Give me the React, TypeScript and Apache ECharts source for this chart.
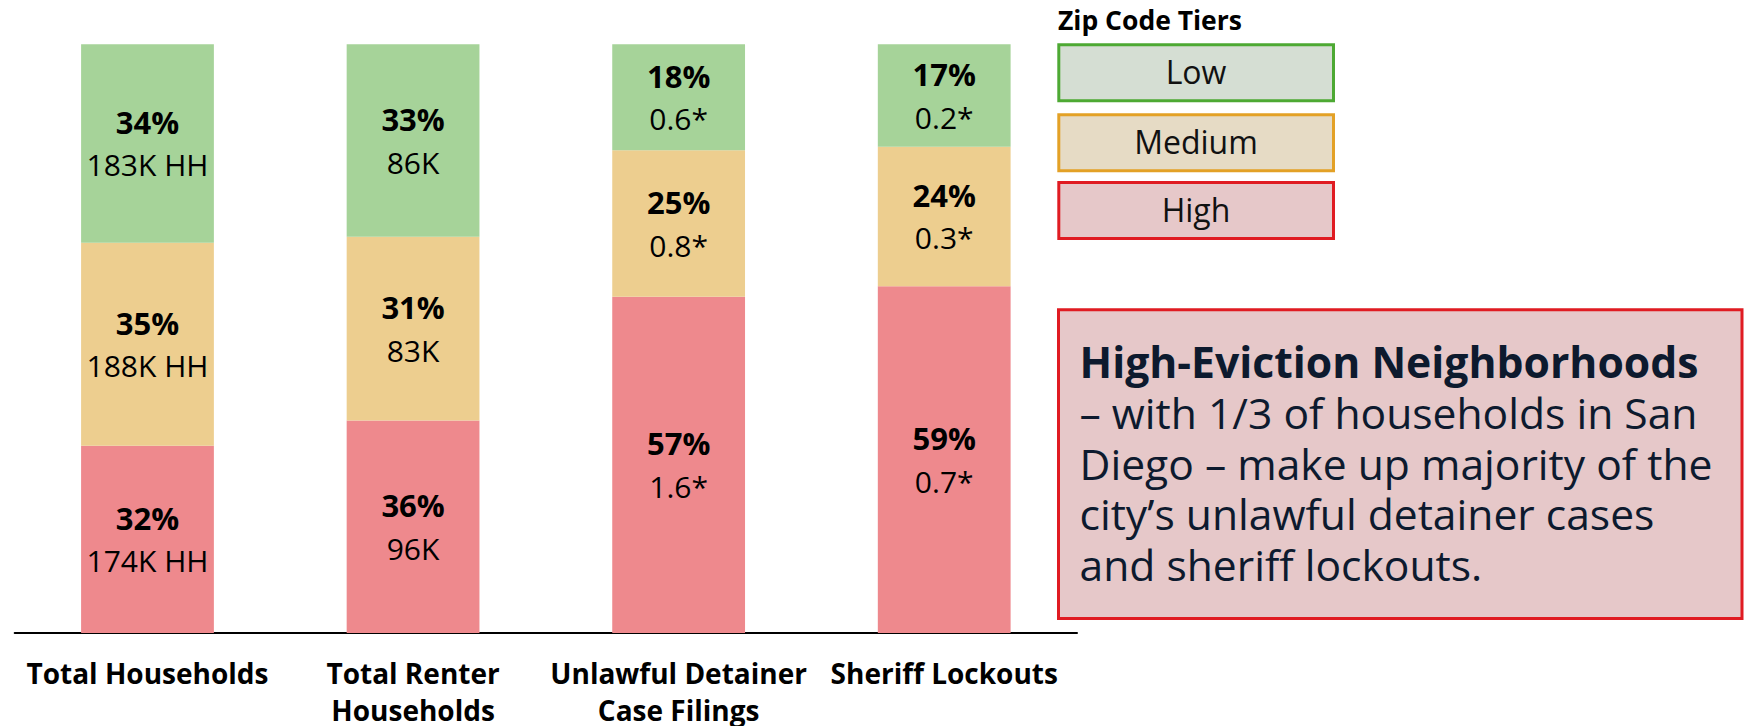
import React, { useEffect, useRef } from "react";
import * as echarts from "echarts";

const categories = [
  "Total Households",
  "Total Renter\nHouseholds",
  "Unlawful Detainer\nCase Filings",
  "Sheriff Lockouts",
];

// bar heights (share of total, %)
const highShare = [31.8, 36.1, 57.1, 58.9];
const mediumShare = [34.5, 31.2, 24.9, 23.7];
const lowShare = [33.7, 32.7, 18.0, 17.4];

// printed labels
const highPct = ["32%", "36%", "57%", "59%"];
const highCount = ["174K HH", "96K", "1.6*", "0.7*"];
const mediumPct = ["35%", "31%", "25%", "24%"];
const mediumCount = ["188K HH", "83K", "0.8*", "0.3*"];
const lowPct = ["34%", "33%", "18%", "17%"];
const lowCount = ["183K HH", "86K", "0.6*", "0.2*"];

const legendTitle = "Zip Code Tiers";
const tierNames = ["Low", "Medium", "High"];

const calloutTitle = "High-Eviction Neighborhoods";
const calloutLines = [
  "– with 1/3 of households in San",
  "Diego – make up majority of the",
  "city’s unlawful detainer cases",
  "and sheriff lockouts.",
];

const FONT = "'Open Sans', 'Noto Sans', sans-serif";

export default function App() {
  const ref = useRef<HTMLDivElement>(null);

  useEffect(() => {
    if (!ref.current) return;
    const chart = echarts.init(ref.current, undefined, { renderer: "svg" });

    const mkLabel = (pcts: string[], counts: string[]) => ({
      show: true,
      position: "inside",
      formatter: (p: any) => `{p|${pcts[p.dataIndex]}}\n{v|${counts[p.dataIndex]}}`,
      rich: {
        p: { fontFamily: FONT, fontSize: 31, fontWeight: "bold", color: "#000", lineHeight: 43 },
        v: { fontFamily: FONT, fontSize: 30, color: "#000", lineHeight: 43 },
      },
    });

    const legendBoxes = [
      { y: 44.8, fill: "#D5DED3", stroke: "#4DA933" },
      { y: 114.8, fill: "#E6DBC5", stroke: "#E3A126" },
      { y: 182.5, fill: "#E6C8C9", stroke: "#E01B22" },
    ];

    const graphic: any[] = [
      {
        type: "text",
        x: 1058,
        y: 19.5,
        style: {
          text: legendTitle,
          fontFamily: FONT,
          fontSize: 26.5,
          fontWeight: "bold",
          fill: "#000",
          align: "left",
          verticalAlign: "middle",
        },
      },
    ];
    legendBoxes.forEach((b, i) => {
      graphic.push({
        type: "rect",
        shape: { x: 1058.8, y: b.y, width: 274.7, height: 56 },
        style: { fill: b.fill, stroke: b.stroke, lineWidth: 3 },
      });
      graphic.push({
        type: "text",
        x: 1196,
        y: b.y + 26.5,
        style: {
          text: tierNames[i],
          fontFamily: FONT,
          fontSize: 32,
          fill: "#111",
          align: "center",
          verticalAlign: "middle",
        },
      });
    });

    graphic.push({
      type: "rect",
      shape: { x: 1058.5, y: 309.8, width: 683.5, height: 308.7 },
      style: { fill: "#E6C8C9", stroke: "#E01B22", lineWidth: 3 },
    });
    const LH = 50.8;
    graphic.push({
      type: "text",
      x: 1079.5,
      y: 361 - LH / 2,
      style: {
        text: [`{b|${calloutTitle}}`, ...calloutLines.map((t) => `{r|${t}}`)].join("\n"),
        fill: "#0D1A2E",
        align: "left",
        verticalAlign: "top",
        rich: {
          b: { fontFamily: FONT, fontSize: 42.7, fontWeight: "bold", fill: "#0D1A2E", lineHeight: LH },
          r: { fontFamily: FONT, fontSize: 42.6, fill: "#0D1A2E", lineHeight: LH },
        },
      },
    });

    chart.setOption({
      animation: false,
      grid: {
        left: 14.7,
        right: 668,
        top: 44.3,
        bottom: 93,
        containLabel: false,
        outerBoundsMode: "none",
      },
      xAxis: {
        type: "category",
        data: categories,
        axisLine: { show: true, lineStyle: { color: "#000", width: 2 } },
        axisTick: { show: false },
        axisLabel: {
          interval: 0,
          margin: 21,
          fontFamily: FONT,
          fontSize: 28,
          fontWeight: "bold",
          color: "#000",
          lineHeight: 37,
        },
      },
      yAxis: { type: "value", min: 0, max: 100, show: false, splitLine: { show: false } },
      series: [
        {
          name: "High",
          type: "bar",
          stack: "tiers",
          barWidth: "50%",
          data: highShare,
          itemStyle: { color: "#EE898D" },
          label: mkLabel(highPct, highCount),
        },
        {
          name: "Medium",
          type: "bar",
          stack: "tiers",
          barWidth: "50%",
          data: mediumShare,
          itemStyle: { color: "#EDCE8F" },
          label: mkLabel(mediumPct, mediumCount),
        },
        {
          name: "Low",
          type: "bar",
          stack: "tiers",
          barWidth: "50%",
          data: lowShare,
          itemStyle: { color: "#A6D399" },
          label: mkLabel(lowPct, lowCount),
        },
      ],
      graphic,
    });

    return () => chart.dispose();
  }, []);

  return (
    <div
      ref={ref}
      style={{ position: "absolute", left: 0, top: 0, width: 1745, height: 726 }}
    />
  );
}
